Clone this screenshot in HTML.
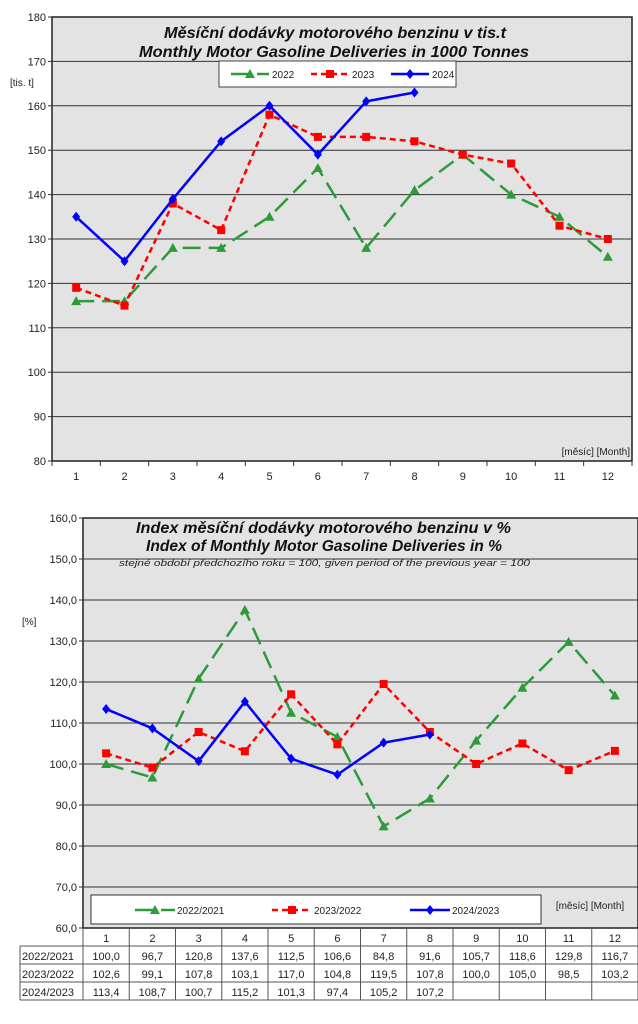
<!DOCTYPE html>
<html><head><meta charset="utf-8"><style>
body{margin:0;background:#fff;width:638px;height:1024px;overflow:hidden;font-family:"Liberation Sans",Arial,sans-serif}
svg{display:block}
</style></head><body>
<svg id="s" width="638" height="1024" font-family="Liberation Sans, Arial, sans-serif"></svg>
<script>
const months=[1,2,3,4,5,6,7,8,9,10,11,12];
const topTicks=[80,90,100,110,120,130,140,150,160,170,180];
const d2022=[116,116,128,128,135,146,128,141,149,140,135,126];
const d2023=[119,115,138,132,158,153,153,152,149,147,133,130];
const d2024=[135,125,139,152,160,149,161,163];
const botTicks=[60,70,80,90,100,110,120,130,140,150,160];
const i2022=[100.0,96.7,120.8,137.6,112.5,106.6,84.8,91.6,105.7,118.6,129.8,116.7];
const i2023=[102.6,99.1,107.8,103.1,117.0,104.8,119.5,107.8,100.0,105.0,98.5,103.2];
const i2024=[113.4,108.7,100.7,115.2,101.3,97.4,105.2,107.2];
const rowLabels=["2022/2021","2023/2022","2024/2023"];
const legTop=["2022","2023","2024"];
const legBot=["2022/2021","2023/2022","2024/2023"];

const S=document.getElementById('s');const NS='http://www.w3.org/2000/svg';
function el(t,a,p){const e=document.createElementNS(NS,t);for(const k in a)e.setAttribute(k,a[k]);(p||S).appendChild(e);return e;}
function tx(x,y,s,a){const e=el('text',Object.assign({x:x,y:y,'font-size':11,fill:'#222'},a||{}));e.textContent=s;return e;}
function fmt(v){return v.toFixed(1).replace('.',',');}
const styles=[{c:'#2e9b3a',dash:'18,8',m:'tri'},{c:'#ff0000',dash:'6,4',m:'sq'},{c:'#0000ff',dash:'',m:'dia'}];
function marker(g,m,x,y,c){
 if(m==='tri')el('polygon',{points:`${x},${y-5} ${x-5},${y+4} ${x+5},${y+4}`,fill:c},g);
 else if(m==='sq')el('rect',{x:x-4,y:y-4,width:8,height:8,fill:c},g);
 else el('polygon',{points:`${x},${y-5} ${x+4},${y} ${x},${y+5} ${x-4},${y}`,fill:c},g);
}
function chart(o){
 const L=o.L,R=o.R,T=o.T,B=o.B;
 const X=i=>L+(R-L)/12*(i+0.5);
 const Y=v=>B-(v-o.min)/(o.max-o.min)*(B-T);
 const p=el('rect',{x:L,y:T,width:R-L,height:B-T,fill:'#e3e3e3',stroke:'#222','stroke-width':1.5});
 
 o.ticks.forEach(t=>{const y=Y(t);
  if(t>o.min&&t<o.max)el('line',{x1:L,x2:R,y1:y,y2:y,stroke:'#333','stroke-width':1});
  el('line',{x1:L-4,x2:L,y1:y,y2:y,stroke:'#333'});
  const l=tx(L-6,y+4,o.fmt(t),{'text-anchor':'end'});});
 o.series.forEach((d,k)=>{const st=styles[k];const g=el('g',{});
  
  el('polyline',{points:d.map((v,i)=>X(i)+','+Y(v)).join(' '),fill:'none',stroke:st.c,'stroke-width':2.5,'stroke-dasharray':st.dash},g);
  d.forEach((v,i)=>marker(g,st.m,X(i),Y(v),st.c));});
 return {X,Y};
}
function title(x1,x2,y,s,size,name,extra){
 const e=tx(x1,y,s,Object.assign({'font-size':size,'font-weight':'bold','font-style':'italic',fill:'#111',textLength:x2-x1,lengthAdjust:'spacingAndGlyphs'},extra||{}));
 return e;
}
// top chart
const t=chart({name:'deliveries',L:52,R:632,T:17,B:461,min:80,max:180,ticks:topTicks,fmt:v=>String(v),series:[d2022,d2023,d2024],leg:legTop});
months.forEach((m,i)=>{el('line',{x1:52+48.33*i,x2:52+48.33*i,y1:461,y2:466,stroke:'#333'});
 const l=tx(t.X(i),480,String(m),{'text-anchor':'middle'});});
el('line',{x1:632,x2:632,y1:461,y2:466,stroke:'#333'});
title(164,506,38,'Měsíční dodávky motorového benzinu v tis.t',16,'chart-title-cz');
title(139,529,57,'Monthly Motor Gasoline Deliveries in 1000 Tonnes',16,'chart-title-en');
let e=tx(10,86,'[tis. t]',{'font-size':10});
e=tx(630,455,'[měsíc] [Month]',{'text-anchor':'end','font-size':10});
let lg=el('g',{});
el('rect',{x:219,y:61,width:237,height:26,fill:'#fff',stroke:'#444'},lg);
[[231,legTop[0]],[311,legTop[1]],[391,legTop[2]]].forEach(([x,s],k)=>{const st=styles[k];
 el('line',{x1:x,x2:x+38,y1:74,y2:74,stroke:st.c,'stroke-width':2.5,'stroke-dasharray':st.dash},lg);marker(lg,st.m,x+19,74,st.c);
 const l=tx(x+41,78,s,{'font-size':10},lg);});
// bottom chart
const b=chart({name:'index',L:83,R:638,T:518,B:928,min:60,max:160,ticks:botTicks,fmt:fmt,series:[i2022,i2023,i2024],leg:legBot});
title(136,511,533,'Index měsíční dodávky motorového benzinu v %',16,'chart2-title-cz');
title(146,502,551,'Index of Monthly Motor Gasoline Deliveries in %',16,'chart2-title-en');
e=tx(119,566,'stejné období předchozího roku = 100, given period of the previous year = 100',{'font-size':9,'font-style':'italic',textLength:411,lengthAdjust:'spacingAndGlyphs'});
e=tx(22,625,'[%]',{'font-size':10});
lg=el('g',{});
el('rect',{x:91,y:895,width:450,height:29,fill:'#fff',stroke:'#333'},lg);
[[135,legBot[0]],[272,legBot[1]],[410,legBot[2]]].forEach(([x,s],k)=>{const st=styles[k];
 el('line',{x1:x,x2:x+40,y1:910,y2:910,stroke:st.c,'stroke-width':2.5,'stroke-dasharray':st.dash},lg);marker(lg,st.m,x+20,910,st.c);
 const l=tx(x+42,914,s,{'font-size':10},lg);});
e=tx(590,909,'[měsíc] [Month]',{'text-anchor':'middle','font-size':10});
// table
const tb=el('g',{});
const cw=(638-83)/12;
el('line',{x1:83,x2:638,y1:946,y2:946,stroke:'#555'},tb);
[964,982,1000].forEach(y=>el('line',{x1:20,x2:638,y1:y,y2:y,stroke:'#555'},tb));
el('line',{x1:20,x2:83,y1:946,y2:946,stroke:'#555'},tb);
el('line',{x1:20,x2:20,y1:946,y2:1000,stroke:'#555'},tb);
for(let i=0;i<=12;i++)el('line',{x1:83+cw*i,x2:83+cw*i,y1:928,y2:1000,stroke:'#555'},tb);
months.forEach((m,i)=>tx(b.X(i),942,String(m),{'text-anchor':'middle','font-size':11},tb));
[i2022,i2023,i2024].forEach((d,r)=>{const y=960+18*r;
 tx(22,y,rowLabels[r],{'font-size':11},tb);
 d.forEach((v,i)=>tx(b.X(i),y,fmt(v),{'text-anchor':'middle','font-size':11},tb));});
</script>
</body></html>
